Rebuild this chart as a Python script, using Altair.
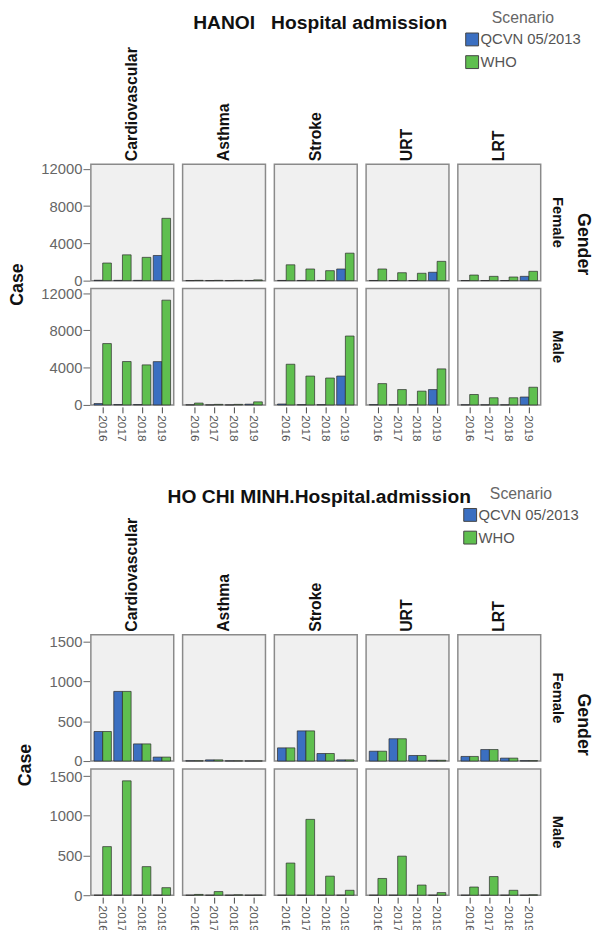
import altair as alt
import pandas as pd

years = ["2016", "2017", "2018", "2019"]
diseases = ["Cardiovascular", "Asthma", "Stroke", "URT", "LRT"]
genders = ["Female", "Male"]
scenarios = ["QCVN 05/2013", "WHO"]

# Hanoi values, one list per disease (in `diseases` order), years 2016-2019
hanoi_female_qcvn = [[40, 30, 30, 2700], [5, 5, 5, 20], [20, 20, 20, 1250], [15, 15, 15, 900], [10, 10, 10, 460]]
hanoi_female_who = [[1890, 2770, 2500, 6690], [30, 30, 30, 80], [1700, 1250, 1070, 2950], [1250, 850, 790, 2070], [600, 460, 390, 1000]]
hanoi_male_qcvn = [[150, 40, 40, 4650], [10, 5, 5, 80], [100, 30, 30, 3100], [30, 20, 20, 1650], [15, 10, 10, 850]]
hanoi_male_who = [[6590, 4660, 4300, 11250], [200, 60, 60, 330], [4370, 3100, 2890, 7400], [2290, 1650, 1480, 3870], [1120, 770, 770, 1900]]

# Ho Chi Minh values
hcm_female_qcvn = [[372, 877, 216, 50], [4, 15, 3, 2], [166, 380, 95, 15], [124, 281, 70, 10], [58, 145, 37, 5]]
hcm_female_who = [[372, 877, 216, 50], [4, 15, 3, 2], [166, 380, 95, 15], [124, 281, 70, 10], [58, 145, 37, 5]]
hcm_male_qcvn = [[0, 0, 0, 0], [0, 0, 0, 0], [0, 0, 0, 0], [0, 0, 0, 0], [0, 0, 0, 0]]
hcm_male_who = [[612, 1440, 360, 95], [10, 46, 5, 2], [405, 955, 240, 62], [211, 492, 128, 33], [103, 235, 62, 5]]

hanoi_ticks = [0, 4000, 8000, 12000]
hcm_ticks = [0, 500, 1000, 1500]

FONT = "Liberation Sans"
BLUE = "#3b6fc1"
GREEN = "#5fbf4f"


def build_df(series):
    rows = []
    for (gender, scen), table in series.items():
        for d, vals in zip(diseases, table):
            for y, v in zip(years, vals):
                rows.append({"Gender": gender, "Scenario": scen, "Disease": d, "Year": y, "Case": v})
    return pd.DataFrame(rows)


hanoi_df = build_df({
    ("Female", scenarios[0]): hanoi_female_qcvn,
    ("Female", scenarios[1]): hanoi_female_who,
    ("Male", scenarios[0]): hanoi_male_qcvn,
    ("Male", scenarios[1]): hanoi_male_who,
})
hcm_df = build_df({
    ("Female", scenarios[0]): hcm_female_qcvn,
    ("Female", scenarios[1]): hcm_female_who,
    ("Male", scenarios[0]): hcm_male_qcvn,
    ("Male", scenarios[1]): hcm_male_who,
})


def city(df, title, ymax, ticks, w, h, lx, ly, tdx, toff):
    base = alt.Chart(df).mark_bar(stroke="#2a2a2a", strokeWidth=0.7).encode(
        x=alt.X("Year:N", sort=years, title=None,
                scale=alt.Scale(paddingInner=0.12, paddingOuter=0.16),
                axis=alt.Axis(labelAngle=90, labelFontSize=12, labelColor="#555",
                              tickColor="#444", tickSize=6, domain=False, labelPadding=2)),
        xOffset=alt.XOffset("Scenario:N", sort=scenarios),
        y=alt.Y("Case:Q", title=None, scale=alt.Scale(domain=[0, ymax], nice=False),
                axis=alt.Axis(values=ticks, format="d", grid=False, domain=False, labelFontSize=15,
                              labelColor="#666", tickColor="#666", tickSize=7, labelPadding=1)),
        color=alt.Color("Scenario:N", sort=scenarios,
                        scale=alt.Scale(domain=scenarios, range=[BLUE, GREEN]),
                        legend=alt.Legend(title="Scenario", orient="none", legendX=lx, legendY=ly,
                                          padding=0, titleAnchor="middle", titleFontWeight="normal",
                                          titleFontSize=16, titleColor="#666", labelFontSize=15,
                                          labelColor="#555", symbolType="square", symbolSize=170,
                                          symbolStrokeColor="#444", symbolStrokeWidth=1,
                                          symbolOpacity=1, rowPadding=4, labelOffset=1,
                                          titlePadding=6)),
    ).properties(width=w, height=h)

    fac = base.facet(
        row=alt.Row("Gender:N", sort=genders,
                    header=alt.Header(title="Case", titleOrient="left", labelOrient="right",
                                      labelAngle=90, labelAlign="center", labelBaseline="top",
                                      labelFontSize=15, labelFontWeight="bold", labelColor="#111",
                                      titleFontSize=18, titleFontWeight="bold", titleColor="#111",
                                      titlePadding=4, labelPadding=8)),
        column=alt.Column("Disease:N", sort=diseases,
                          header=alt.Header(title=None, labelAngle=-90, labelAlign="right",
                                            labelBaseline="middle", labelFontSize=16,
                                            labelFontWeight="bold", labelColor="#111", labelPadding=2)),
        spacing={"row": 5, "column": 7},
        title=alt.TitleParams("Gender", orient="right", anchor="middle", fontSize=18,
                              fontWeight="bold", color="#111", offset=10),
    )
    return alt.vconcat(fac, title=alt.TitleParams(title, fontSize=19.5, fontWeight="bold",
                                                   color="#111", anchor="middle", dx=tdx,
                                                   offset=toff))


hanoi = city(hanoi_df, "HANOI\u00a0\u00a0\u00a0Hospital admission", 12500, hanoi_ticks,
             84, 118, 379, -156, 20, -23)
hcm = city(hcm_df, "HO CHI MINH.Hospital.admission", 1590, hcm_ticks,
           84, 128, 377, -151, 15, -22)

chart = alt.vconcat(hanoi, hcm, spacing=45).resolve_scale(color="independent").properties(
    padding={"left": 1, "top": -4, "right": 0, "bottom": 0}
).configure(font=FONT).configure_view(
    fill="#f0f0f0", stroke="#8a8a8a", strokeWidth=1.5
)

chart.save("out.html", embed_options={"renderer": "svg", "actions": False})
